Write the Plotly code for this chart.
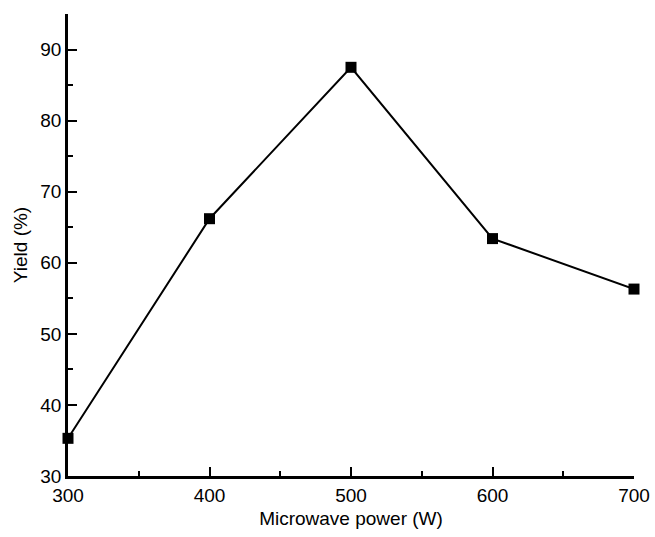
import plotly.graph_objects as go

power = [300, 400, 500, 600, 700]
yield_pct = [35.3, 66.2, 87.5, 63.4, 56.3]

fig = go.Figure()
fig.add_trace(go.Scatter(
    x=power, y=yield_pct, mode="lines+markers",
    line=dict(color="black", width=2),
    marker=dict(symbol="square", size=11, color="black"),
    cliponaxis=False, showlegend=False,
))

FONT = "Liberation Sans, Arial, Helvetica"
axis_common = dict(
    showline=True, linecolor="black", linewidth=2.5,
    ticks="inside", tickcolor="black", tickwidth=2, ticklen=9,
    showgrid=False, zeroline=False, mirror=False, automargin=False,
    tickfont=dict(family=FONT, size=19, color="black"),
    title_font=dict(family=FONT, size=19, color="black"),
)

fig.update_xaxes(
    range=[300, 700], dtick=100, tick0=300,
    minor=dict(ticks="inside", ticklen=5, dtick=50, tickcolor="black", tickwidth=2),
    title_text="Microwave power (W)", title_standoff=8,
    **axis_common,
)
fig.update_yaxes(
    range=[30, 95], dtick=10, tick0=30,
    minor=dict(ticks="inside", ticklen=5, dtick=5, tickcolor="black", tickwidth=2),
    title_text="Yield (%)", title_standoff=8,
    **axis_common,
)

fig.update_layout(
    width=655, height=537,
    margin=dict(l=68, r=21, t=14, b=61),
    plot_bgcolor="white", paper_bgcolor="white",
)

fig.write_html(
    "out.html",
    config={"displayModeBar": False},
    post_script="document.body.style.margin='0';document.body.style.overflow='hidden';",
)
